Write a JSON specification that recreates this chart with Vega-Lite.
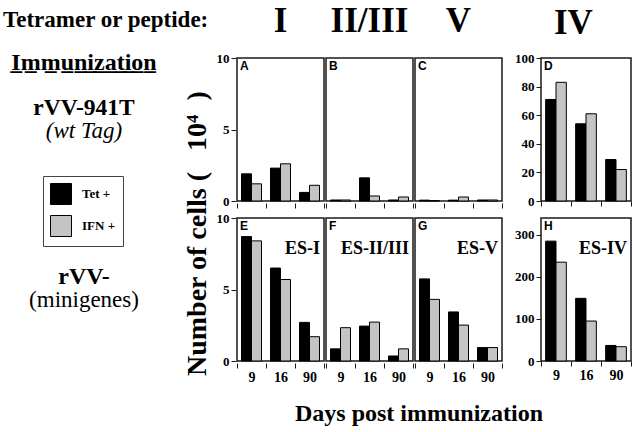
{
  "$schema": "https://vega.github.io/schema/vega-lite/v6.json",
  "padding": {"left": 3, "top": 4, "right": 0, "bottom": 0},
  "background": "white",
  "title": {"text": "Tetramer or peptide:", "anchor": "start", "fontSize": 23, "offset": -28, "font": "Liberation Serif", "fontWeight": "bold", "color": "black"},
  "datasets": {
    "cells": [
      {"imm": "wt", "tet": "I", "panel": "A", "es": "", "day": "9", "type": "Tet +", "n": 1.9},
      {"imm": "wt", "tet": "I", "panel": "A", "es": "", "day": "9", "type": "IFN +", "n": 1.2},
      {"imm": "wt", "tet": "I", "panel": "A", "es": "", "day": "16", "type": "Tet +", "n": 2.3},
      {"imm": "wt", "tet": "I", "panel": "A", "es": "", "day": "16", "type": "IFN +", "n": 2.6},
      {"imm": "wt", "tet": "I", "panel": "A", "es": "", "day": "90", "type": "Tet +", "n": 0.6},
      {"imm": "wt", "tet": "I", "panel": "A", "es": "", "day": "90", "type": "IFN +", "n": 1.1},
      {"imm": "wt", "tet": "II/III", "panel": "B", "es": "", "day": "9", "type": "Tet +", "n": 0.07},
      {"imm": "wt", "tet": "II/III", "panel": "B", "es": "", "day": "9", "type": "IFN +", "n": 0.07},
      {"imm": "wt", "tet": "II/III", "panel": "B", "es": "", "day": "16", "type": "Tet +", "n": 1.62},
      {"imm": "wt", "tet": "II/III", "panel": "B", "es": "", "day": "16", "type": "IFN +", "n": 0.35},
      {"imm": "wt", "tet": "II/III", "panel": "B", "es": "", "day": "90", "type": "Tet +", "n": 0.07},
      {"imm": "wt", "tet": "II/III", "panel": "B", "es": "", "day": "90", "type": "IFN +", "n": 0.28},
      {"imm": "wt", "tet": "V", "panel": "C", "es": "", "day": "9", "type": "Tet +", "n": 0.06},
      {"imm": "wt", "tet": "V", "panel": "C", "es": "", "day": "9", "type": "IFN +", "n": 0.03},
      {"imm": "wt", "tet": "V", "panel": "C", "es": "", "day": "16", "type": "Tet +", "n": 0.06},
      {"imm": "wt", "tet": "V", "panel": "C", "es": "", "day": "16", "type": "IFN +", "n": 0.28},
      {"imm": "wt", "tet": "V", "panel": "C", "es": "", "day": "90", "type": "Tet +", "n": 0.07},
      {"imm": "wt", "tet": "V", "panel": "C", "es": "", "day": "90", "type": "IFN +", "n": 0.07},
      {"imm": "wt", "tet": "IV", "panel": "D", "es": "", "day": "9", "type": "Tet +", "n": 71},
      {"imm": "wt", "tet": "IV", "panel": "D", "es": "", "day": "9", "type": "IFN +", "n": 83},
      {"imm": "wt", "tet": "IV", "panel": "D", "es": "", "day": "16", "type": "Tet +", "n": 54},
      {"imm": "wt", "tet": "IV", "panel": "D", "es": "", "day": "16", "type": "IFN +", "n": 61},
      {"imm": "wt", "tet": "IV", "panel": "D", "es": "", "day": "90", "type": "Tet +", "n": 29},
      {"imm": "wt", "tet": "IV", "panel": "D", "es": "", "day": "90", "type": "IFN +", "n": 22},
      {"imm": "mini", "tet": "I", "panel": "E", "es": "ES-I", "day": "9", "type": "Tet +", "n": 8.7},
      {"imm": "mini", "tet": "I", "panel": "E", "es": "ES-I", "day": "9", "type": "IFN +", "n": 8.4},
      {"imm": "mini", "tet": "I", "panel": "E", "es": "ES-I", "day": "16", "type": "Tet +", "n": 6.5},
      {"imm": "mini", "tet": "I", "panel": "E", "es": "ES-I", "day": "16", "type": "IFN +", "n": 5.7},
      {"imm": "mini", "tet": "I", "panel": "E", "es": "ES-I", "day": "90", "type": "Tet +", "n": 2.7},
      {"imm": "mini", "tet": "I", "panel": "E", "es": "ES-I", "day": "90", "type": "IFN +", "n": 1.7},
      {"imm": "mini", "tet": "II/III", "panel": "F", "es": "ES-II/III", "day": "9", "type": "Tet +", "n": 0.85},
      {"imm": "mini", "tet": "II/III", "panel": "F", "es": "ES-II/III", "day": "9", "type": "IFN +", "n": 2.33},
      {"imm": "mini", "tet": "II/III", "panel": "F", "es": "ES-II/III", "day": "16", "type": "Tet +", "n": 2.44},
      {"imm": "mini", "tet": "II/III", "panel": "F", "es": "ES-II/III", "day": "16", "type": "IFN +", "n": 2.72},
      {"imm": "mini", "tet": "II/III", "panel": "F", "es": "ES-II/III", "day": "90", "type": "Tet +", "n": 0.35},
      {"imm": "mini", "tet": "II/III", "panel": "F", "es": "ES-II/III", "day": "90", "type": "IFN +", "n": 0.85},
      {"imm": "mini", "tet": "V", "panel": "G", "es": "ES-V", "day": "9", "type": "Tet +", "n": 5.74},
      {"imm": "mini", "tet": "V", "panel": "G", "es": "ES-V", "day": "9", "type": "IFN +", "n": 4.31},
      {"imm": "mini", "tet": "V", "panel": "G", "es": "ES-V", "day": "16", "type": "Tet +", "n": 3.43},
      {"imm": "mini", "tet": "V", "panel": "G", "es": "ES-V", "day": "16", "type": "IFN +", "n": 2.51},
      {"imm": "mini", "tet": "V", "panel": "G", "es": "ES-V", "day": "90", "type": "Tet +", "n": 0.94},
      {"imm": "mini", "tet": "V", "panel": "G", "es": "ES-V", "day": "90", "type": "IFN +", "n": 0.94},
      {"imm": "mini", "tet": "IV", "panel": "H", "es": "ES-IV", "day": "9", "type": "Tet +", "n": 285},
      {"imm": "mini", "tet": "IV", "panel": "H", "es": "ES-IV", "day": "9", "type": "IFN +", "n": 235},
      {"imm": "mini", "tet": "IV", "panel": "H", "es": "ES-IV", "day": "16", "type": "Tet +", "n": 149},
      {"imm": "mini", "tet": "IV", "panel": "H", "es": "ES-IV", "day": "16", "type": "IFN +", "n": 95},
      {"imm": "mini", "tet": "IV", "panel": "H", "es": "ES-IV", "day": "90", "type": "Tet +", "n": 37},
      {"imm": "mini", "tet": "IV", "panel": "H", "es": "ES-IV", "day": "90", "type": "IFN +", "n": 34}
    ]
  },
  "spacing": 18,
  "hconcat": [
    {
      "spacing": 0,
      "vconcat": [
        {
          "width": 162, "height": 24, "view": {"stroke": null},
          "data": {"values": [{"t": "I\u0332m\u0332m\u0332u\u0332n\u0332i\u0332z\u0332a\u0332t\u0332i\u0332o\u0332n\u0332"}]},
          "mark": {"type": "text", "baseline": "alphabetic", "fontSize": 24, "fontWeight": "bold", "font": "Liberation Serif"},
          "encoding": {"text": {"field": "t"}}
        },
        {
          "width": 162, "height": 76, "view": {"stroke": null},
          "layer": [
            {
              "data": {"values": [{"t": "rVV-941T"}]},
              "mark": {"type": "text", "baseline": "bottom", "fontSize": 23.5, "fontWeight": "bold", "font": "Liberation Serif"},
              "encoding": {"text": {"field": "t"}}
            },
            {
              "data": {"values": [{"t": "(wt Tag)"}]},
              "mark": {"type": "text", "baseline": "top", "fontSize": 23, "fontStyle": "italic", "font": "Liberation Serif"},
              "encoding": {"text": {"field": "t"}}
            }
          ]
        },
        {
          "width": 162, "height": 262, "view": {"stroke": null},
          "layer": [
            {
              "data": {"values": [{"t": "rVV-"}]},
              "mark": {"type": "text", "baseline": "bottom", "fontSize": 24, "fontWeight": "bold", "font": "Liberation Serif"},
              "encoding": {"text": {"field": "t"}}
            },
            {
              "data": {"values": [{"t": "(minigenes)"}]},
              "mark": {"type": "text", "baseline": "top", "fontSize": 23, "fontWeight": "normal", "font": "Liberation Serif"},
              "encoding": {"text": {"field": "t"}}
            }
          ]
        }
      ]
    },
    {
      "title": {"text": "Number of cells (\u00a0\u00a0\u00a010\u2074\u00a0\u00a0)", "orient": "left", "fontSize": 28, "offset": 4, "dx": 50},
      "spacing": 3,
      "vconcat": [
        {
          "spacing": 10,
          "resolve": {"scale": {"xOffset": "independent"}},
          "hconcat": [
            {
              "data": {"name": "cells"},
              "transform": [{"filter": "datum.imm == 'wt' && datum.tet != 'IV'"}],
              "facet": {"column": {"field": "tet", "type": "nominal", "sort": ["I", "II/III", "V"],
                "header": {"title": null, "labelFont": "Liberation Serif", "labelFontSize": 35, "labelFontWeight": "bold", "labelColor": "black", "labelPadding": 18}}},
              "spacing": 0,
              "spec": {
                "width": 87, "height": 143,
                "layer": [
                  {
                    "mark": {"type": "bar", "stroke": "black", "strokeWidth": 1},
                    "encoding": {
                      "x": {"field": "day", "type": "nominal", "sort": ["9", "16", "90"], "title": null,
                        "scale": {"paddingInner": 0, "paddingOuter": 0}, "axis": {"labels": false}},
                      "xOffset": {"field": "type", "sort": ["Tet +", "IFN +"], "scale": {"paddingInner": 0, "paddingOuter": 0.45}},
                      "y": {"field": "n", "type": "quantitative", "title": null,
                        "scale": {"domain": [0, 10], "nice": false}, "axis": {"values": [0, 5, 10]}},
                      "color": {"field": "type", "type": "nominal",
                        "scale": {"domain": ["Tet +", "IFN +"], "range": ["black", "#c4c4c4"]},
                        "legend": {"orient": "none", "legendX": 40, "legendY": 118, "title": null, "direction": "vertical",
                          "strokeColor": "#444", "fillColor": "white", "padding": 7, "symbolType": "square", "symbolSize": 441,
                          "symbolStrokeColor": "black", "symbolStrokeWidth": 1, "symbolOpacity": 1,
                          "labelFont": "Liberation Serif", "labelFontSize": 13, "labelFontWeight": "bold", "labelColor": "black",
                          "rowPadding": 6, "labelOffset": 10}}
                    }
                  },
                  {
                    "transform": [{"filter": "datum.day == '9' && datum.type == 'Tet +'"}],
                    "mark": {"type": "text", "align": "left", "baseline": "top", "dx": 3, "dy": 3, "font": "Liberation Sans", "fontWeight": "bold", "fontSize": 12},
                    "encoding": {
                      "x": {"field": "day", "type": "nominal", "sort": ["9", "16", "90"], "bandPosition": 0},
                      "y": {"datum": 10, "type": "quantitative"},
                      "text": {"field": "panel"}
                    }
                  }
                ]
              }
            },
            {
              "data": {"name": "cells"},
              "transform": [{"filter": "datum.imm == 'wt' && datum.tet == 'IV'"}],
              "title": {"text": "IV", "fontSize": 35, "frame": "group", "anchor": "start", "dx": 13, "offset": 11},
              "width": 90, "height": 143,
              "layer": [
                {
                  "mark": {"type": "bar", "stroke": "black", "strokeWidth": 1},
                  "encoding": {
                    "x": {"field": "day", "type": "nominal", "sort": ["9", "16", "90"], "title": null,
                      "scale": {"paddingInner": 0, "paddingOuter": 0}, "axis": {"labels": false}},
                    "xOffset": {"field": "type", "sort": ["Tet +", "IFN +"], "scale": {"paddingInner": 0, "paddingOuter": 0.45}},
                    "y": {"field": "n", "type": "quantitative", "title": null,
                      "scale": {"domain": [0, 100], "nice": false},
                      "axis": {"values": [0, 20, 40, 60, 80, 100], "tickCount": 6, "format": "d", "labelOverlap": false, "labelSeparation": 0, "labelBound": false, "labelFlush": false, "zindex": 1}},
                    "color": {"field": "type", "type": "nominal", "scale": {"domain": ["Tet +", "IFN +"], "range": ["black", "#c4c4c4"]}}
                  }
                },
                {
                  "transform": [{"filter": "datum.day == '9' && datum.type == 'Tet +'"}],
                  "mark": {"type": "text", "align": "left", "baseline": "top", "dx": 3, "dy": 3, "font": "Liberation Sans", "fontWeight": "bold", "fontSize": 12},
                  "encoding": {
                    "x": {"field": "day", "type": "nominal", "sort": ["9", "16", "90"], "bandPosition": 0, "axis": {"labels": false}},
                    "y": {"datum": 100, "type": "quantitative",
                      "axis": {"values": [0, 20, 40, 60, 80, 100], "tickCount": 6, "format": "d", "labelOverlap": false, "labelSeparation": 0, "labelBound": false, "labelFlush": false, "zindex": 1}},
                    "text": {"field": "panel"}
                  }
                }
              ]
            }
          ]
        },
        {
          "title": {"text": "Days post immunization", "orient": "bottom", "fontSize": 24, "offset": 18, "dx": 79},
          "spacing": 10,
          "resolve": {"scale": {"xOffset": "independent"}},
          "hconcat": [
            {
              "data": {"name": "cells"},
              "transform": [{"filter": "datum.imm == 'mini' && datum.tet != 'IV'"}],
              "facet": {"column": {"field": "tet", "type": "nominal", "sort": ["I", "II/III", "V"], "header": {"title": null, "labels": false, "labelPadding": 0}}},
              "spacing": 0,
              "spec": {
                "width": 87, "height": 143,
                "layer": [
                  {
                    "mark": {"type": "bar", "stroke": "black", "strokeWidth": 1},
                    "encoding": {
                      "x": {"field": "day", "type": "nominal", "sort": ["9", "16", "90"], "title": null,
                        "scale": {"paddingInner": 0, "paddingOuter": 0}},
                      "xOffset": {"field": "type", "sort": ["Tet +", "IFN +"], "scale": {"paddingInner": 0, "paddingOuter": 0.45}},
                      "y": {"field": "n", "type": "quantitative", "title": null,
                        "scale": {"domain": [0, 10], "nice": false}, "axis": {"values": [0, 5, 10]}},
                      "color": {"field": "type", "type": "nominal", "scale": {"domain": ["Tet +", "IFN +"], "range": ["black", "#c4c4c4"]}}
                    }
                  },
                  {
                    "transform": [{"filter": "datum.day == '9' && datum.type == 'Tet +'"}],
                    "mark": {"type": "text", "align": "left", "baseline": "top", "dx": 3, "dy": 3, "font": "Liberation Sans", "fontWeight": "bold", "fontSize": 12},
                    "encoding": {
                      "x": {"field": "day", "type": "nominal", "sort": ["9", "16", "90"], "bandPosition": 0},
                      "y": {"datum": 10, "type": "quantitative"},
                      "text": {"field": "panel"}
                    }
                  },
                  {
                    "transform": [{"filter": "datum.day == '90' && datum.type == 'Tet +'"}],
                    "mark": {"type": "text", "align": "right", "baseline": "top", "dx": -4, "dy": 22, "font": "Liberation Serif", "fontWeight": "bold", "fontSize": 18},
                    "encoding": {
                      "x": {"field": "day", "type": "nominal", "sort": ["9", "16", "90"], "bandPosition": 1},
                      "y": {"datum": 10, "type": "quantitative"},
                      "text": {"field": "es"}
                    }
                  }
                ]
              }
            },
            {
              "data": {"name": "cells"},
              "transform": [{"filter": "datum.imm == 'mini' && datum.tet == 'IV'"}],
              "width": 90, "height": 143,
              "layer": [
                {
                  "mark": {"type": "bar", "stroke": "black", "strokeWidth": 1},
                  "encoding": {
                    "x": {"field": "day", "type": "nominal", "sort": ["9", "16", "90"], "title": null,
                      "scale": {"paddingInner": 0, "paddingOuter": 0}},
                    "xOffset": {"field": "type", "sort": ["Tet +", "IFN +"], "scale": {"paddingInner": 0, "paddingOuter": 0.45}},
                    "y": {"field": "n", "type": "quantitative", "title": null,
                      "scale": {"domain": [0, 340], "nice": false}, "axis": {"values": [0, 100, 200, 300]}},
                    "color": {"field": "type", "type": "nominal", "scale": {"domain": ["Tet +", "IFN +"], "range": ["black", "#c4c4c4"]}}
                  }
                },
                {
                  "transform": [{"filter": "datum.day == '9' && datum.type == 'Tet +'"}],
                  "mark": {"type": "text", "align": "left", "baseline": "top", "dx": 3, "dy": 3, "font": "Liberation Sans", "fontWeight": "bold", "fontSize": 12},
                  "encoding": {
                    "x": {"field": "day", "type": "nominal", "sort": ["9", "16", "90"], "bandPosition": 0},
                    "y": {"datum": 340, "type": "quantitative"},
                    "text": {"field": "panel"}
                  }
                },
                {
                  "transform": [{"filter": "datum.day == '90' && datum.type == 'Tet +'"}],
                  "mark": {"type": "text", "align": "right", "baseline": "top", "dx": -4, "dy": 22, "font": "Liberation Serif", "fontWeight": "bold", "fontSize": 18},
                  "encoding": {
                    "x": {"field": "day", "type": "nominal", "sort": ["9", "16", "90"], "bandPosition": 1},
                    "y": {"datum": 340, "type": "quantitative"},
                    "text": {"field": "es"}
                  }
                }
              ]
            }
          ]
        }
      ]
    }
  ],
  "config": {
    "font": "Liberation Serif",
    "view": {"stroke": "#1a1a1a", "strokeWidth": 1.5},
    "axis": {"labelFont": "Liberation Serif", "labelFontWeight": "bold", "labelFontSize": 13, "labelColor": "black",
      "tickColor": "#1a1a1a", "tickSize": 5, "domain": false, "grid": false, "labelOverlap": false},
    "axisX": {"tickBand": "extent", "labelAngle": 0, "labelPadding": 2, "labelFontSize": 14},
    "axisY": {"labelPadding": 2},
    "header": {"labelFont": "Liberation Serif"},
    "title": {"font": "Liberation Serif", "fontWeight": "bold", "color": "black"},
    "text": {"font": "Liberation Serif", "color": "black"}
  }
}
